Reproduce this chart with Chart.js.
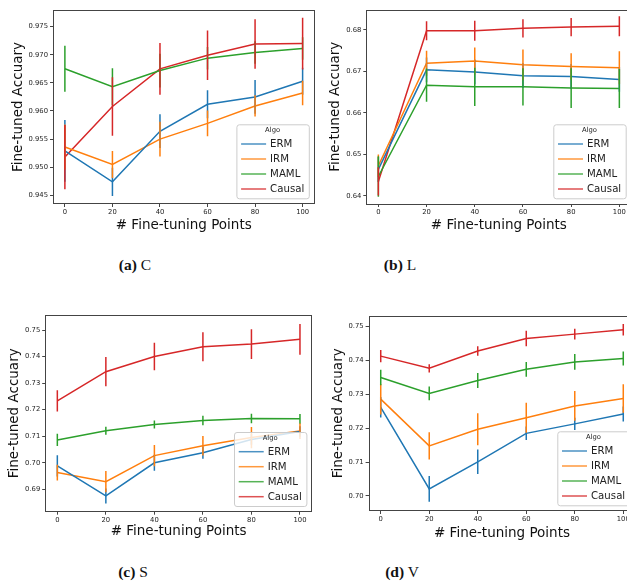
<!DOCTYPE html>
<html><head><meta charset="utf-8">
<script src="https://cdn.jsdelivr.net/npm/chart.js@4.4.1/dist/chart.umd.min.js"></script>
<style>
html,body{margin:0;padding:0;background:#fff;overflow:hidden;width:627px;height:583px;position:relative;}
canvas{position:absolute;}
.cap{position:absolute;font-family:"Liberation Serif","Times New Roman",serif;font-size:15.5px;color:#111;text-align:center;width:140px;line-height:18px;white-space:nowrap;}
.cap b{font-weight:bold;}
</style></head><body>
<div class="cap" style="left:65px;top:256px;"><b>(a)</b> C</div>
<div class="cap" style="left:330px;top:256px;"><b>(b)</b> L</div>
<div class="cap" style="left:63px;top:563px;"><b>(c)</b> S</div>
<div class="cap" style="left:332px;top:563px;"><b>(d)</b> V</div>
<script>
// ---------- DATA ----------
const xPoints = [0, 20, 40, 60, 80, 100];
const algos = ['ERM', 'IRM', 'MAML', 'Causal'];

// (a) C
const C_ERM = [0.9529, 0.9474, 0.9564, 0.9612, 0.9625, 0.9653];
const C_ERM_err = [0.0055, 0.0025, 0.0030, 0.0025, 0.0030, 0.0024];
const C_IRM = [0.9536, 0.9505, 0.9550, 0.9578, 0.9609, 0.9632];
const C_IRM_err = [0.0040, 0.0024, 0.0031, 0.0023, 0.0019, 0.0022];
const C_MAML = [0.9675, 0.9643, 0.9672, 0.9694, 0.9704, 0.9711];
const C_MAML_err = [0.0041, 0.0033, 0.0030, 0.0020, 0.0020, 0.0020];
const C_Causal = [0.9518, 0.9608, 0.9675, 0.9699, 0.9719, 0.9720];
const C_Causal_err = [0.0057, 0.0052, 0.0046, 0.0044, 0.0044, 0.0046];
const C_yTicks = [0.945, 0.950, 0.955, 0.960, 0.965, 0.970, 0.975];

// (b) L
const L_ERM = [0.6464, 0.6704, 0.6699, 0.6690, 0.6688, 0.6681];
const L_ERM_err = [0.0030, 0.0030, 0.0030, 0.0030, 0.0030, 0.0030];
const L_IRM = [0.6473, 0.6720, 0.6725, 0.6716, 0.6712, 0.6709];
const L_IRM_err = [0.0027, 0.0030, 0.0033, 0.0037, 0.0032, 0.0040];
const L_MAML = [0.6447, 0.6667, 0.6663, 0.6663, 0.6660, 0.6659];
const L_MAML_err = [0.0049, 0.0040, 0.0046, 0.0045, 0.0048, 0.0047];
const L_Causal = [0.6435, 0.6798, 0.6798, 0.6804, 0.6807, 0.6809];
const L_Causal_err = [0.0034, 0.0023, 0.0024, 0.0022, 0.0022, 0.0024];
const L_yTicks = [0.64, 0.65, 0.66, 0.67, 0.68];

// (c) S
const S_ERM = [0.6988, 0.6875, 0.7000, 0.7038, 0.7088, 0.7118];
const S_ERM_err = [0.0040, 0.0028, 0.0030, 0.0023, 0.0020, 0.0020];
const S_IRM = [0.6963, 0.6929, 0.7027, 0.7064, 0.7095, 0.7120];
const S_IRM_err = [0.0030, 0.0040, 0.0040, 0.0037, 0.0040, 0.0030];
const S_MAML = [0.7086, 0.7121, 0.7144, 0.7159, 0.7167, 0.7166];
const S_MAML_err = [0.0023, 0.0015, 0.0015, 0.0018, 0.0018, 0.0018];
const S_Causal = [0.7233, 0.7343, 0.7400, 0.7437, 0.7447, 0.7465];
const S_Causal_err = [0.0040, 0.0055, 0.0052, 0.0055, 0.0056, 0.0058];
const S_yTicks = [0.69, 0.70, 0.71, 0.72, 0.73, 0.74, 0.75];

// (d) V
const V_ERM = [0.7262, 0.7021, 0.7101, 0.7185, 0.7213, 0.7242];
const V_ERM_err = [0.0030, 0.0038, 0.0036, 0.0020, 0.0018, 0.0022];
const V_IRM = [0.7286, 0.7148, 0.7197, 0.7231, 0.7266, 0.7288];
const V_IRM_err = [0.0045, 0.0040, 0.0047, 0.0044, 0.0044, 0.0042];
const V_MAML = [0.7350, 0.7303, 0.7341, 0.7374, 0.7396, 0.7406];
const V_MAML_err = [0.0023, 0.0020, 0.0022, 0.0022, 0.0023, 0.0021];
const V_Causal = [0.7413, 0.7377, 0.7428, 0.7465, 0.7478, 0.7491];
const V_Causal_err = [0.0018, 0.0012, 0.0014, 0.0023, 0.0016, 0.0017];
const V_yTicks = [0.70, 0.71, 0.72, 0.73, 0.74, 0.75];

// ---------- STYLE / LAYOUT ----------
const colors = ['#1f77b4', '#ff7f0e', '#2ca02c', '#d62728'];
const FONT = "'DejaVu Sans', 'Liberation Sans', sans-serif";
Chart.defaults.font.family = FONT;
Chart.defaults.color = '#222';

const panels = [
  {values:[C_ERM,C_IRM,C_MAML,C_Causal], errors:[C_ERM_err,C_IRM_err,C_MAML_err,C_Causal_err],
   yTicks:C_yTicks, yMin:0.94346, yMax:0.97796, dec:3,
   canvas:{x:0,y:0,w:320,h:236}, area:{l:53,r:314.5,t:10,b:204}, yTitleX:18.8, xTitleY:225.5},
  {values:[L_ERM,L_IRM,L_MAML,L_Causal], errors:[L_ERM_err,L_IRM_err,L_MAML_err,L_Causal_err],
   yTicks:L_yTicks, yMin:0.63807, yMax:0.68494, dec:2,
   canvas:{x:322,y:0,w:316,h:236}, area:{l:366.3,r:631.4,t:9.5,b:204}, yTitleX:335.8, xTitleY:225.5},
  {values:[S_ERM,S_IRM,S_MAML,S_Causal], errors:[S_ERM_err,S_IRM_err,S_MAML_err,S_Causal_err],
   yTicks:S_yTicks, yMin:0.68158, yMax:0.75565, dec:2,
   canvas:{x:0,y:300,w:320,h:242}, area:{l:45.2,r:312.1,t:315,b:511.7}, yTitleX:14, xTitleY:531.7},
  {values:[V_ERM,V_IRM,V_MAML,V_Causal], errors:[V_ERM_err,V_IRM_err,V_MAML_err,V_Causal_err],
   yTicks:V_yTicks, yMin:0.69557, yMax:0.75324, dec:2,
   canvas:{x:322,y:300,w:320,h:242}, area:{l:368.6,r:635.4,t:315.7,b:511}, yTitleX:338.3, xTitleY:533}
];

const errorBarPlugin = {
  id:'errorBars',
  afterDatasetsDraw(chart){
    const ctx = chart.ctx, xs = chart.scales.x, ys = chart.scales.y, ca = chart.chartArea;
    ctx.save();
    ctx.beginPath(); ctx.rect(ca.left, ca.top, ca.right-ca.left, ca.bottom-ca.top); ctx.clip();
    chart.data.datasets.forEach(ds=>{
      ctx.strokeStyle = ds.borderColor; ctx.lineWidth = 1.5;
      ds.data.forEach((pt,j)=>{
        const e = ds.errors[j];
        const px = xs.getPixelForValue(pt.x);
        ctx.beginPath();
        ctx.moveTo(px, ys.getPixelForValue(pt.y - e));
        ctx.lineTo(px, ys.getPixelForValue(pt.y + e));
        ctx.stroke();
      });
    });
    ctx.restore();
  }
};

const framePlugin = {
  id:'frameLegend',
  afterDraw(chart){
    const ctx = chart.ctx, ca = chart.chartArea;
    ctx.save();
    ctx.strokeStyle = '#444'; ctx.lineWidth = 1;
    ctx.strokeRect(Math.round(ca.left)+0.5, Math.round(ca.top)+0.5, Math.round(ca.right-ca.left)-1, Math.round(ca.bottom-ca.top)-1);
    // legend (lower right, matplotlib style)
    const entryFont = '10.2px ' + FONT;
    ctx.font = entryFont;
    let maxW = 0;
    chart.data.datasets.forEach(ds=>{ maxW = Math.max(maxW, ctx.measureText(ds.label).width); });
    const w = 33.7 + maxW + 4.5, h = 74;
    const right = ca.right - 5.7, bottom = ca.bottom - 5.7;
    const left = right - w, top = bottom - h;
    ctx.beginPath();
    if (ctx.roundRect) ctx.roundRect(left+0.5, top+0.5, w, h, 2.5); else ctx.rect(left+0.5, top+0.5, w, h);
    ctx.fillStyle = 'rgba(255,255,255,0.8)'; ctx.fill();
    ctx.strokeStyle = '#cccccc'; ctx.lineWidth = 1; ctx.stroke();
    ctx.fillStyle = '#222'; ctx.font = '6.8px ' + FONT; ctx.textAlign = 'center'; ctx.textBaseline = 'middle';
    ctx.fillText('Algo', left + w/2, top + 6);
    ctx.font = entryFont; ctx.textAlign = 'left';
    chart.data.datasets.forEach((ds,i)=>{
      const cy = top + 19.7 + i*15;
      ctx.globalAlpha = 0.8;
      ctx.strokeStyle = ds.borderColor; ctx.lineWidth = 1.5;
      ctx.beginPath(); ctx.moveTo(left+4.7, cy); ctx.lineTo(left+29.7, cy); ctx.stroke();
      ctx.globalAlpha = 1;
      ctx.fillStyle = '#222';
      ctx.fillText(ds.label, left + 33.7, cy + 0.5);
    });
    ctx.restore();
  }
};

function makeChart(p){
  const c = p.canvas, a = p.area;
  const cv = document.createElement('canvas');
  cv.width = c.w; cv.height = c.h;
  cv.style.left = c.x + 'px'; cv.style.top = c.y + 'px';
  cv.style.width = c.w + 'px'; cv.style.height = c.h + 'px';
  document.body.appendChild(cv);
  const tf = 13.5, lh = tf * 1.2;
  const yAxisW = a.l - c.x, xAxisH = (c.y + c.h) - a.b;
  const yTitlePad = (p.yTitleX - c.x) - lh/2;
  const xTitlePad = (c.y + c.h - p.xTitleY) - lh/2;
  new Chart(cv, {
    type:'line',
    data:{
      datasets: algos.map((name,i)=>({
        label:name,
        data: xPoints.map((x,j)=>({x:x, y:p.values[i][j]})),
        errors: p.errors[i],
        borderColor: colors[i], backgroundColor: colors[i],
        borderWidth:1.5, pointRadius:0, tension:0, fill:false
      }))
    },
    options:{
      responsive:false, animation:false, devicePixelRatio:1,
      layout:{padding:{left:0, top:a.t - c.y, right:(c.x + c.w) - a.r, bottom:0}},
      plugins:{legend:{display:false}, tooltip:{enabled:false}},
      scales:{
        x:{type:'linear', min:-5, max:105,
          afterBuildTicks:s=>{ s.ticks = xPoints.map(v=>({value:v})); },
          afterFit:s=>{ s.height = xAxisH; },
          ticks:{font:{size:6.8}, padding:1.5, maxRotation:0, autoSkip:false, color:'#222',
                 callback:v=>String(v)},
          grid:{drawOnChartArea:false, drawTicks:true, tickLength:3, color:'#444'},
          border:{display:false},
          title:{display:true, text:'# Fine-tuning Points', font:{size:tf}, color:'#111',
                 padding:{top:0, bottom:xTitlePad}}
        },
        y:{type:'linear', min:p.yMin, max:p.yMax,
          afterBuildTicks:s=>{ s.ticks = p.yTicks.map(v=>({value:v})); },
          afterFit:s=>{ s.width = yAxisW; },
          ticks:{font:{size:6.8}, padding:2, autoSkip:false, color:'#222',
                 callback:v=>Number(v).toFixed(p.dec)},
          grid:{drawOnChartArea:false, drawTicks:true, tickLength:3, color:'#444'},
          border:{display:false},
          title:{display:true, text:'Fine-tuned Accuary', font:{size:tf}, color:'#111',
                 padding:{top:yTitlePad, bottom:0}}
        }
      }
    },
    plugins:[errorBarPlugin, framePlugin]
  });
}
panels.forEach(makeChart);
</script>
</body></html>
